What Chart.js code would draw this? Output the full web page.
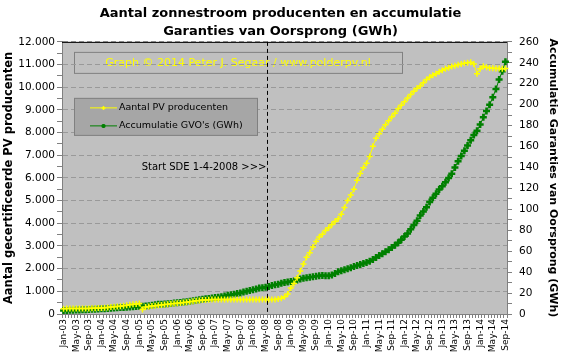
<!DOCTYPE html>
<html>
<head>
<meta charset="utf-8">
<script src="https://cdn.jsdelivr.net/npm/chart.js@4"></script>
<style>
  html, body { margin: 0; padding: 0; background: #fff; }
</style>
</head>
<body>
<canvas id="myChart" width="561" height="361"></canvas>
<script>
const months = ['Jan', 'Feb', 'Mar', 'Apr', 'May', 'Jun', 'Jul', 'Aug', 'Sep', 'Oct', 'Nov', 'Dec'];
const years = ['03', '04', '05', '06', '07', '08', '09', '10', '11', '12', '13', '14'];
const lastMonth = 'Sep-14';

// Aantal PV producenten (left axis)
const pvProducenten = [
  235, 238, 240, 240, 242, 240, 238, 240, 245, 250,
  255, 262, 270, 280, 292, 305, 318, 330, 345, 365,
  385, 405, 428, 445, 459, 194, 309, 330, 350, 368,
  384, 400, 415, 430, 448, 465, 478, 490, 505, 520,
  540, 560, 580, 600, 612, 620, 628, 635, 635, 635,
  635, 635, 635, 635, 635, 635, 635, 635, 635, 635,
  635, 635, 635, 635, 635, 635, 635, 640, 660, 700,
  760, 880, 1150, 1350, 1600, 1900, 2200, 2500, 2700, 2950,
  3200, 3400, 3520, 3680, 3800, 3950, 4080, 4200, 4400, 4700,
  5000, 5250, 5500, 5900, 6200, 6450, 6650, 6950, 7400, 7750,
  7950, 8150, 8350, 8520, 8700, 8850, 9050, 9200, 9360, 9520,
  9680, 9820, 9950, 10050, 10200, 10340, 10440, 10530, 10600, 10680,
  10750, 10810, 10860, 10910, 10950, 10990, 11030, 11060, 11080, 11100,
  11020, 10600, 10820, 10920, 10880, 10850, 10840, 10830, 10830, 10820, 10830
];

// Accumulatie GVO's in GWh (right axis)
const gvoAccumulatie = [
  3.3, 3.4, 3.5, 3.6, 3.8, 3.9, 4.0, 4.1, 4.3, 4.5,
  4.6, 4.8, 4.9, 5.1, 5.3, 5.5, 5.7, 5.9, 6.1, 6.3,
  6.5, 6.7, 6.9, 7.1, 7.3, 7.4, 7.6, 8.0, 8.4, 8.8,
  9.2, 9.4, 9.6, 9.8, 10.1, 10.4, 10.7, 11.0, 11.4, 11.8,
  12.2, 12.7, 13.2, 13.7, 14.1, 14.5, 14.9, 15.3, 15.7, 16.1,
  16.6, 17.2, 17.8, 18.4, 18.9, 19.5, 20.1, 21.0, 21.8, 22.5,
  23.2, 24.0, 24.8, 25.2, 25.5, 26.2, 27.2, 27.9, 28.5, 29.4,
  30.0, 30.5, 31.0, 31.5, 32.4, 33.4, 34.2, 34.7, 35.2, 35.5,
  36.0, 36.6, 36.7, 36.6, 36.6, 37.3, 38.6, 40.3, 41.3, 42.3,
  43.3, 44.3, 45.3, 46.3, 47.3, 48.3, 49.3, 50.3, 52.0, 54.0,
  55.8, 57.5, 59.5, 61.5, 63.5, 65.6, 68, 71, 74, 77,
  81, 85, 89, 94, 98, 102, 107, 111, 115, 119,
  122, 126, 130, 134, 140, 146, 151, 156, 161, 166,
  171, 175, 181, 188, 194, 200, 207, 215, 224, 232, 241
];

const sdeStart = 'May-08';
const fontFam = 'DejaVu Sans';

const labels = [];
years.forEach(y => months.forEach(m => labels.push(m + '-' + y)));
labels.length = labels.indexOf(lastMonth) + 1;

function dots(n) {
  return String(n).replace(/\B(?=(\d{3})+(?!\d))/g, '.');
}

function drawCross(ctx, x, y, r, color, w) {
  ctx.strokeStyle = color;
  ctx.lineWidth = w;
  ctx.beginPath();
  ctx.moveTo(x - r, y); ctx.lineTo(x + r, y);
  ctx.moveTo(x, y - r); ctx.lineTo(x, y + r);
  ctx.stroke();
}

const plotDecor = {
  id: 'plotDecor',
  beforeDraw(chart) {
    const {ctx, chartArea: a} = chart;
    ctx.save();
    ctx.fillStyle = '#c0c0c0';
    ctx.fillRect(a.left, a.top, a.right - a.left, a.bottom - a.top);
    // watermark box
    ctx.strokeStyle = '#808080';
    ctx.lineWidth = 1;
    ctx.strokeRect(a.left + 12.5, a.top + 10.5, 328, 21);
    ctx.fillStyle = '#ffff00';
    ctx.font = '11px "' + fontFam + '"';
    ctx.textAlign = 'center';
    ctx.textBaseline = 'middle';
    ctx.fillText('Graph \u00A9 2014 Peter J. Segaar / www.polderpv.nl', a.left + 176, a.top + 21);
    ctx.restore();
  },
  afterDatasetsDraw(chart) {
    const {ctx, chartArea: a, scales} = chart;
    const x = Math.round(scales.x.getPixelForValue(labels.indexOf(sdeStart))) + 1.5;
    ctx.save();
    ctx.strokeStyle = '#000';
    ctx.lineWidth = 1;
    ctx.setLineDash([4, 3]);
    ctx.beginPath();
    ctx.moveTo(x, a.top);
    ctx.lineTo(x, a.bottom);
    ctx.stroke();
    ctx.setLineDash([]);
    ctx.fillStyle = '#000';
    ctx.font = '10px "' + fontFam + '"';
    ctx.textAlign = 'right';
    ctx.textBaseline = 'middle';
    ctx.fillText('Start SDE 1-4-2008 >>>', x - 1, a.top + 126);

    // top border of plot area
    ctx.beginPath();
    ctx.moveTo(a.left, a.top + 0.5);
    ctx.lineTo(a.right, a.top + 0.5);
    ctx.stroke();

    // legend box
    const lx = a.left + 12, ly = a.top + 56;
    ctx.fillStyle = '#a6a6a6';
    ctx.fillRect(lx, ly, 184, 38);
    ctx.strokeStyle = '#808080';
    ctx.strokeRect(lx + 0.5, ly + 0.5, 183, 37);
    ctx.font = '9.5px "' + fontFam + '"';
    ctx.textAlign = 'left';
    chart.data.datasets.forEach((ds, i) => {
      const yy = ly + 10 + i * 18;
      ctx.strokeStyle = ds.borderColor;
      ctx.lineWidth = 1;
      ctx.beginPath();
      ctx.moveTo(lx + 16, yy);
      ctx.lineTo(lx + 43, yy);
      ctx.stroke();
      drawCross(ctx, lx + 29.5, yy, 2, ds.borderColor, i ? 2.5 : 1.5);
      ctx.fillStyle = '#000';
      ctx.fillText(ds.label, lx + 45, yy);
    });
    ctx.restore();
  }
};

const data = {
  labels: labels,
  datasets: [{
    label: 'Aantal PV producenten',
    data: pvProducenten,
    yAxisID: 'y',
    borderColor: '#ffff00',
    backgroundColor: '#ffff00',
    borderWidth: 1,
    pointStyle: 'cross',
    pointRadius: 3,
    pointBorderWidth: 1.5,
    pointBorderColor: '#ffff00',
    tension: 0,
  }, {
    label: "Accumulatie GVO's (GWh)",
    data: gvoAccumulatie,
    yAxisID: 'y2',
    borderColor: '#008000',
    backgroundColor: '#008000',
    borderWidth: 1,
    pointStyle: 'cross',
    pointRadius: 3.5,
    pointBorderWidth: 2.5,
    pointBorderColor: '#008000',
    tension: 0,
  }]
};

const config = {
  type: 'line',
  data: data,
  plugins: [plotDecor],
  options: {
    responsive: false,
    animation: false,
    layout: { padding: 0 },
    scales: {
      x: {
        offset: true,
        afterFit: (s) => { s.height = 47; },
        grid: { display: true, drawOnChartArea: false, tickLength: 4, tickColor: '#808080', offset: true },
        border: { color: '#808080' },
        ticks: {
          autoSkip: false,
          maxRotation: 90,
          minRotation: 90,
          padding: 1,
          color: '#000',
          font: { family: fontFam, size: 9 },
          callback: function (v, i) { return i % 4 === 0 ? this.getLabelForValue(v) : ''; }
        }
      },
      y: {
        position: 'left',
        min: 0,
        max: 12000,
        afterFit: (s) => { s.width = 62; },
        title: {
          display: true,
          text: 'Aantal gecertificeerde PV producenten',
          color: '#000',
          font: { family: fontFam, size: 11.5, weight: 'bold' },
          padding: { top: 2, bottom: 0 }
        },
        grid: {
          color: (c) => (c.tick && c.tick.value % 1000 === 0) ? '#999999' : 'rgba(0,0,0,0)',
          tickColor: '#808080',
          tickLength: 5
        },
        border: { color: '#808080', dash: [5, 3] },
        ticks: {
          stepSize: 500,
          autoSkip: false,
          padding: 2,
          color: '#000',
          font: { family: fontFam, size: 10.5 },
          callback: (v) => v % 1000 === 0 ? dots(v) : ''
        }
      },
      y2: {
        position: 'right',
        min: 0,
        max: 260,
        afterFit: (s) => { s.width = 54; },
        title: {
          display: true,
          text: 'Accumulatie Garanties van Oorsprong (GWh)',
          color: '#000',
          font: { family: fontFam, size: 11, weight: 'bold' },
          padding: { top: 2, bottom: 0 }
        },
        grid: { drawOnChartArea: false, tickColor: '#808080', tickLength: 5 },
        border: { color: '#808080' },
        ticks: {
          stepSize: 10,
          autoSkip: false,
          padding: 7,
          color: '#000',
          font: { family: fontFam, size: 10.5 },
          callback: (v) => v % 20 === 0 ? v : ''
        }
      }
    },
    plugins: {
      legend: { display: false },
      tooltip: { enabled: false },
      title: {
        display: true,
        text: ['Aantal zonnestroom producenten en accumulatie', 'Garanties van Oorsprong (GWh)'],
        color: '#000',
        font: { family: fontFam, size: 13, weight: 'bold', lineHeight: 1.38 },
        padding: { top: 5, bottom: 1 }
      }
    }
  }
};

const myChart = new Chart(document.getElementById('myChart'), config);
</script>
</body>
</html>
